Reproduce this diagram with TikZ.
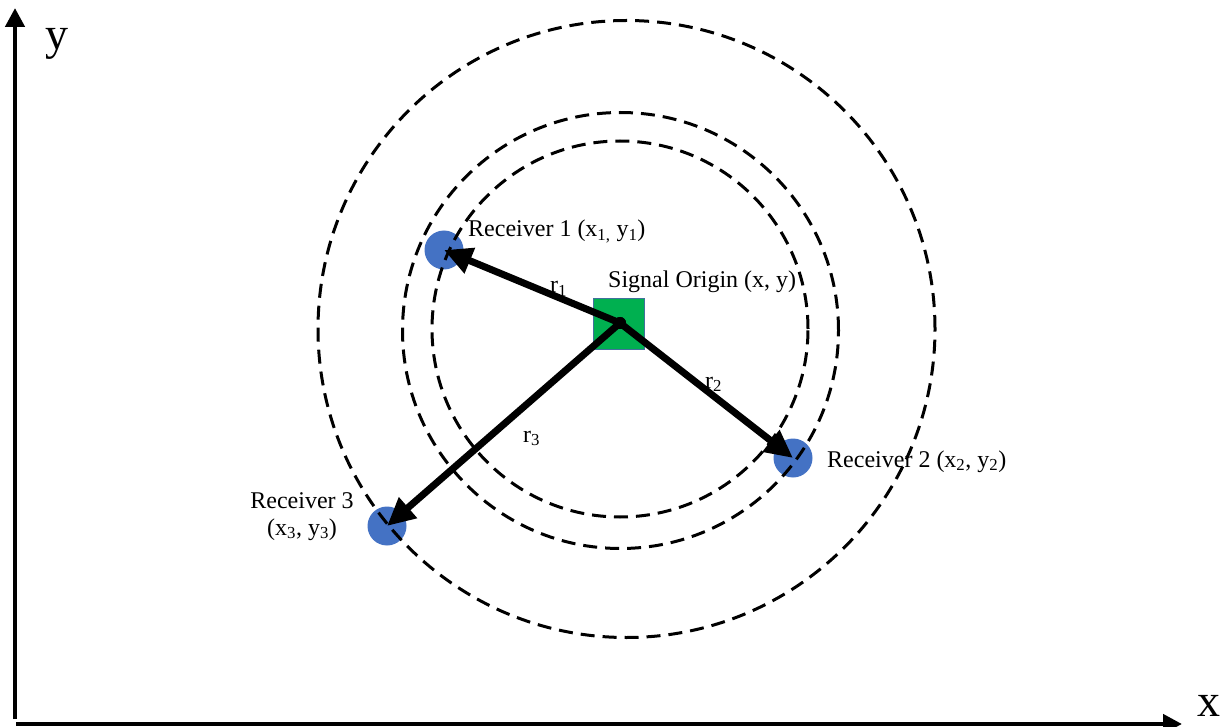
\documentclass[tikz,border=0pt]{standalone}
\usepackage{fontspec}
\setmainfont{Liberation Serif}
\usetikzlibrary{arrows.meta}
\definecolor{rxblue}{HTML}{4472C4}
\definecolor{srcgreen}{HTML}{00B050}
\definecolor{srcedge}{HTML}{41719C}
\begin{document}
\begin{tikzpicture}[x=1pt,y=-1pt,
  ring/.style={draw=black, line width=3pt, dash pattern=on 14pt off 8pt},
  recv/.style={circle, fill=rxblue, minimum size=39pt, inner sep=0pt},
  lbl/.style={font=\fontsize{24}{27}\selectfont, inner sep=0pt},
  big/.style={font=\fontsize{46}{50}\selectfont, inner sep=0pt},
  ray/.style={line width=7pt, -{Triangle[length=28pt,width=26pt]}},
  axisline/.style={line width=4.5pt, -{Triangle[length=19pt,width=19pt]}}]
\useasboundingbox (0,0) rectangle (1229,727);
% axes
\coordinate (yb) at (15,719);
\coordinate (yt) at (15,8);
\coordinate (xl) at (16,724);
\coordinate (xr) at (1182,724);
\draw[axisline] (yb) -- (yt);
\draw[axisline] (xl) -- (xr);
\node[big, anchor=base] (ylab) at (57,50) {y};
\node[big, anchor=base] (xlab) at (1209,716) {x};
% receivers
\node[recv] (r1) at (444,250) {};
\node[recv] (r2) at (793,458) {};
\node[recv] (r3) at (387,526) {};
% rings
\draw[ring] (626.5,329) circle[radius=308.5pt];
\draw[ring] (620.5,330.5) circle[radius=218pt];
\draw[ring] (620,329) circle[radius=188pt];
% source
\node[draw=srcedge, line width=0.6pt, fill=srcgreen, minimum size=51pt, inner sep=0pt] (sq) at (618.5,323.5) {};
\node[circle, fill=black, minimum size=12pt, inner sep=0pt] (o) at (620,323) {};
% rays
\draw[ray] (o.center) -- (r1.center);
\draw[ray] (o.center) -- (r2.center);
\draw[ray] (o.center) -- (r3.center);
\node[circle, fill=black, minimum size=12pt, inner sep=0pt] at (o) {};
% labels
\node[lbl, anchor=base west] (l1) at (468,237) {Receiver 1 (x\textsubscript{1,}\ y\textsubscript{1})};
\node[lbl, anchor=base west] (ls) at (608,288) {Signal Origin (x, y)};
\node[lbl, anchor=base west] (l2) at (827,467) {Receiver 2 (x\textsubscript{2}, y\textsubscript{2})};
\node[lbl, anchor=base, align=center] (l3) at (302,535) {Receiver 3\\[0pt](x\textsubscript{3}, y\textsubscript{3})};
\node[lbl, anchor=base west] (rr1) at (550,293) {r\textsubscript{1}};
\node[lbl, anchor=base west] (rr2) at (705,388) {r\textsubscript{2}};
\node[lbl, anchor=base west] (rr3) at (523,442) {r\textsubscript{3}};
\end{tikzpicture}
\end{document}
